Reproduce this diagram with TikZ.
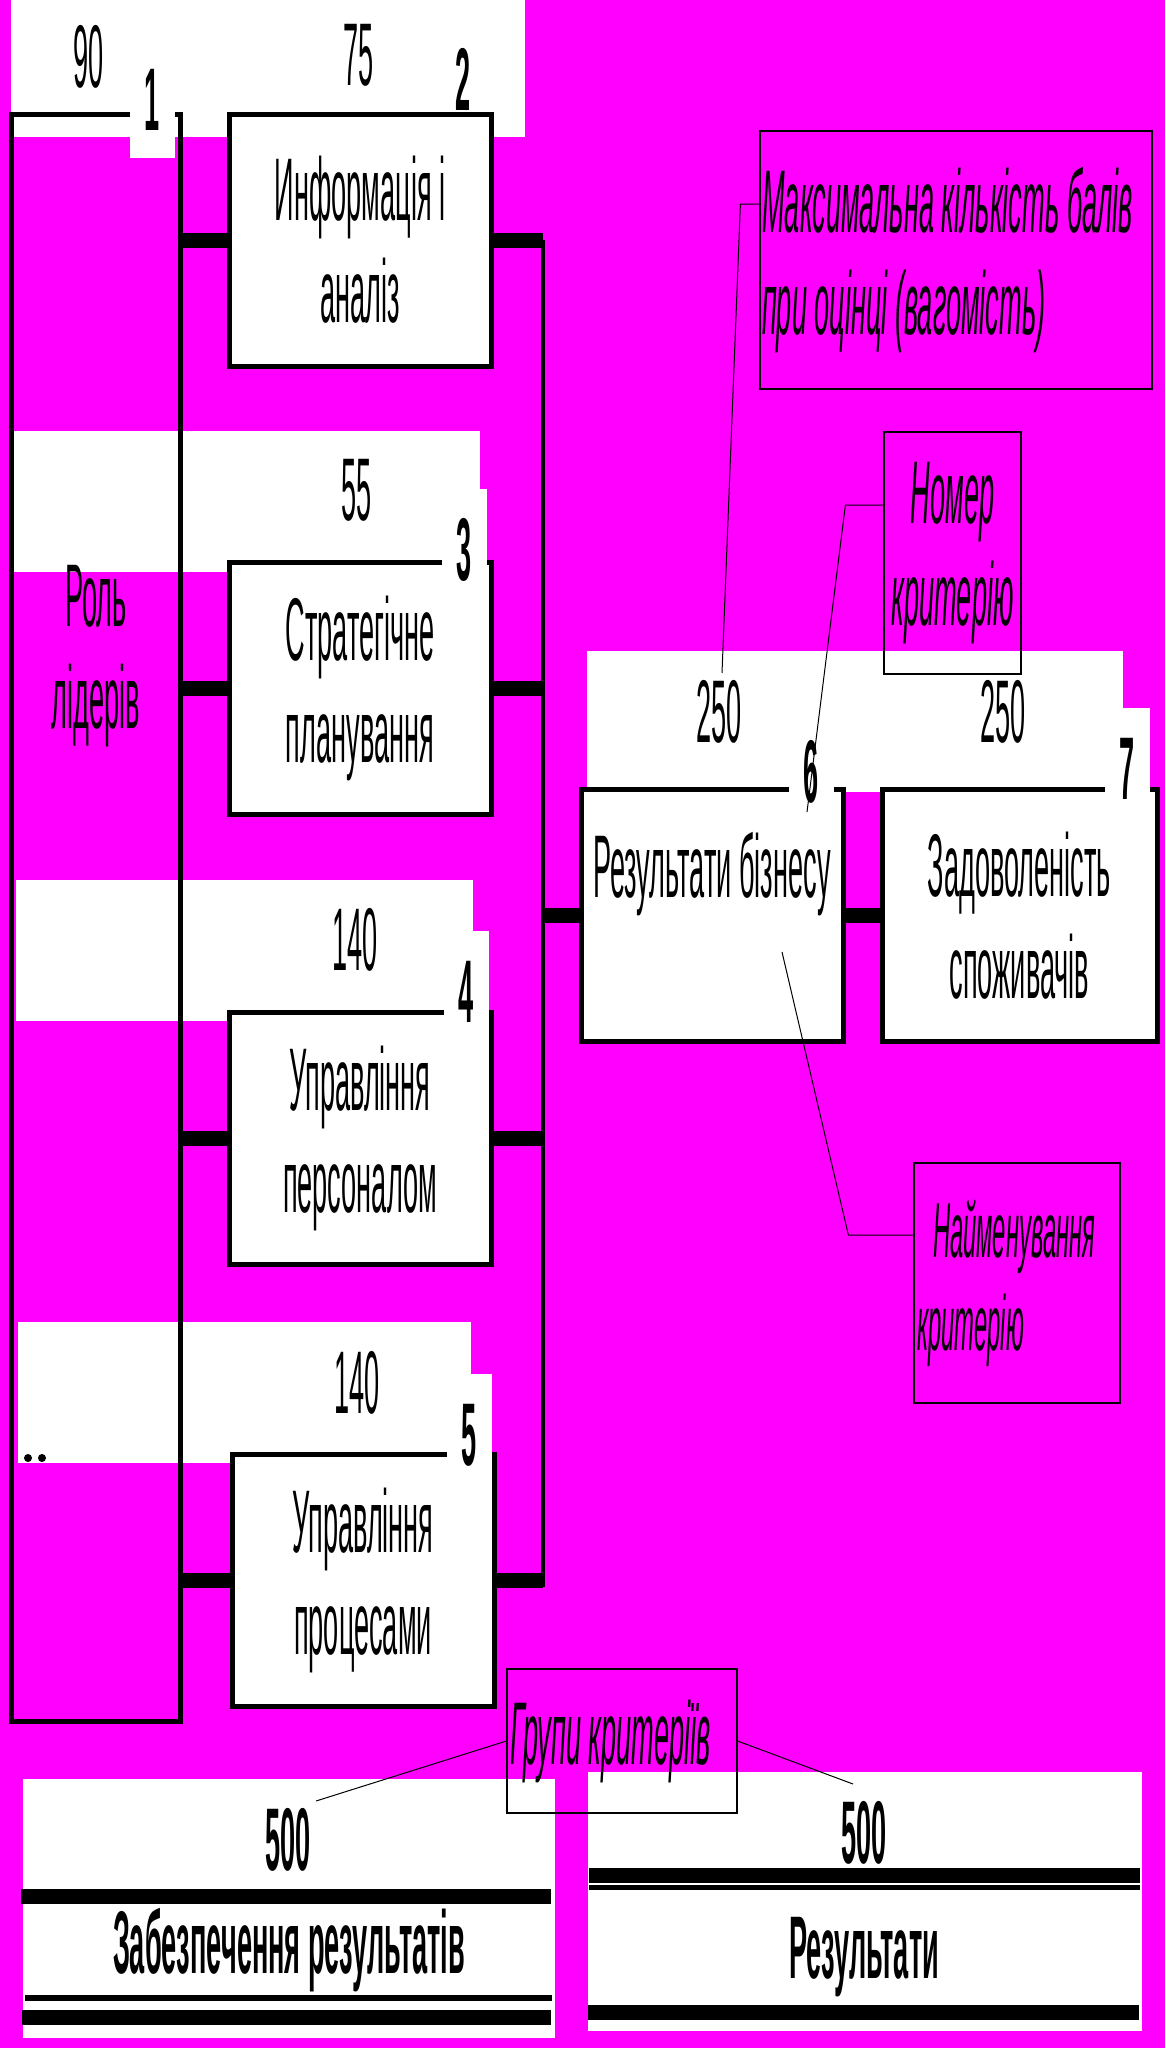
\documentclass[tikz,border=0pt]{standalone}
\usepackage{fontspec}
\newfontfamily\narrowfont[FakeStretch=0.305]{Liberation Sans}
\usepackage{tikz}
\usetikzlibrary{positioning}
\definecolor{backgr}{RGB}{255,0,255}
\newcommand{\bigtext}{\narrowfont\fontsize{89}{102}\selectfont}
\newcommand{\smalltext}{\narrowfont\fontsize{78}{93}\selectfont}

\begin{document}
\begin{tikzpicture}[x=1pt,y=-1pt,
	every node/.style={inner sep=0pt,font=\bigtext},
	box/.style={draw,line width=5pt,fill=white,minimum width=262pt,minimum height=252pt,align=center},
	tag/.style={fill=white,font=\bigtext\bfseries,minimum width=45pt,text height=91pt,text depth=28pt,anchor=base},
	weight/.style={anchor=base},
	note/.style={draw,line width=1.2pt,font=\bigtext\itshape},
	bar/.style={line width=15pt},
	bus/.style={line width=4pt},
	lead/.style={line width=1pt}]

	\fill[backgr] (0,0) rectangle (1165,2048);
	\useasboundingbox (0,0) rectangle (1165,2048);

	\fill[white] (11,0) rectangle (525,137);
	\fill[white] (14,431) rectangle (480,572);
	\fill[white] (16,880) rectangle (473,1021);
	\fill[white] (18,1322) rectangle (471,1463);
	\fill[white] (587,651) rectangle (1123,792);
	\fill[white] (23,1779) rectangle (555,2038);
	\fill[white] (588,1772) rectangle (1142,2031);

	\node[draw,line width=5pt,minimum width=169pt,minimum height=1607pt] (roles) at (95.5,917.5) {};
	\node[align=center] (rolestext) at (96,656) {Роль\\лідерів};

	\node[box] (info) at (360,240) {Информація і\\аналіз};
	\node[box, below=191pt of info] (plan) {Стратегічне\\планування};
	\node[box, below=193pt of plan] (staff) {Управління\\персоналом};
	\node[box, below=185pt of staff, xshift=3pt] (proc) {Управління\\процесами};
	\node[box] (biz) at (712,915.5) {Результати бізнесу\\~};
	\node[box, right=34pt of biz, minimum width=275pt] (cust) {Задоволеність\\споживачів};

	\coordinate (bustop) at (543,240);
	\coordinate (busbot) at (543,1587);
	\draw[bus] (bustop) -- (busbot);
	\draw[bar] (info.west -| roles.east) -- (info.west);
	\draw[bar] (plan.west -| roles.east) -- (plan.west);
	\draw[bar] (staff.west -| roles.east) -- (staff.west);
	\draw[bar] (proc.west -| roles.east) -- (proc.west);
	\draw[bar] (info.east) -- (info.east -| bustop);
	\draw[bar] (plan.east) -- (plan.east -| bustop);
	\draw[bar] (staff.east) -- (staff.east -| bustop);
	\draw[bar] (proc.east) -- (proc.east -| bustop);
	\draw[bar] (biz.west -| bustop) -- (biz.west);
	\draw[bar] (biz.east) -- (cust.west);

	\node[tag] (n1) at (152,130) {1};
	\node[tag,fill=none,text depth=0pt] (n2) at (463,110) {2};
	\node[tag] (n3) at (464,580) {3};
	\node[tag] (n4) at (466,1022) {4};
	\node[tag] (n5) at (469,1465) {5};
	\node[tag] (n6) at (811,802) {6};
	\node[tag] (n7) at (1127,799) {7};

	\node[weight] (w1) at (89,87) {90};
	\node[weight] (w2) at (359,85) {75};
	\node[weight] (w3) at (357,520) {55};
	\node[weight] (w4) at (355,970) {140};
	\node[weight] (w5) at (357,1413) {140};
	\node[weight] (w6) at (719,742) {250};
	\node[weight] (w7) at (1003,742) {250};

	\fill (21,1889) rectangle (551,1904);
	\fill (25,1995) rectangle (552,2001);
	\fill (22,2010) rectangle (551,2025);
	\fill (589,1868) rectangle (1140,1883);
	\fill (589,1885) rectangle (1140,1890);
	\fill (588,2005) rectangle (1139,2020);
	\node[weight,font=\bigtext\bfseries] (sumL) at (288,1870) {500};
	\node[weight,font=\bigtext\bfseries] (grpL) at (289,1973) {Забезпечення результатів};
	\node[weight,font=\bigtext\bfseries] (sumR) at (864,1863) {500};
	\node[weight,font=\bigtext\bfseries] (grpR) at (864,1978) {Результати};

	\node[note,minimum width=392pt,minimum height=258pt,text width=388pt,align=flush left] (maxnote) at (956,260) {Максимальна кількість балів\\при оцінці (вагомість)};
	\node[note,minimum width=137pt,minimum height=242pt,align=center] (numnote) at (952.5,553) {Номер\\критерію};
	\node[note,font=\smalltext\itshape,minimum width=206pt,minimum height=240pt,text width=200pt,align=flush left] (namenote) at (1017,1283) {\hspace{16pt}Найменування\\критерію};
	\node[note,minimum width=230pt,minimum height=144pt,text width=224pt,align=flush left] (groupnote) at (622,1741) {Групи критеріїв};

	\coordinate (maxtip) at (722,673);
	\coordinate (numtip) at (807,812);
	\coordinate (nametip) at (782,952);
	\coordinate (sumLtip) at (316,1801);
	\coordinate (sumRtip) at (853,1784);
	\draw[lead] ([yshift=56pt]maxnote.west) -- ++(-19,0) -- (maxtip);
	\draw[lead] ([yshift=48pt]numnote.west) -- ++(-38,0) -- (numtip);
	\draw[lead] ([yshift=48pt]namenote.west) -- ++(-65,0) -- (nametip);
	\draw[lead] (groupnote.west) -- (sumLtip);
	\draw[lead] (groupnote.east) -- (sumRtip);

	\fill (28,1458) circle (4);
	\fill (42,1458) circle (4);

\end{tikzpicture}
\end{document}
